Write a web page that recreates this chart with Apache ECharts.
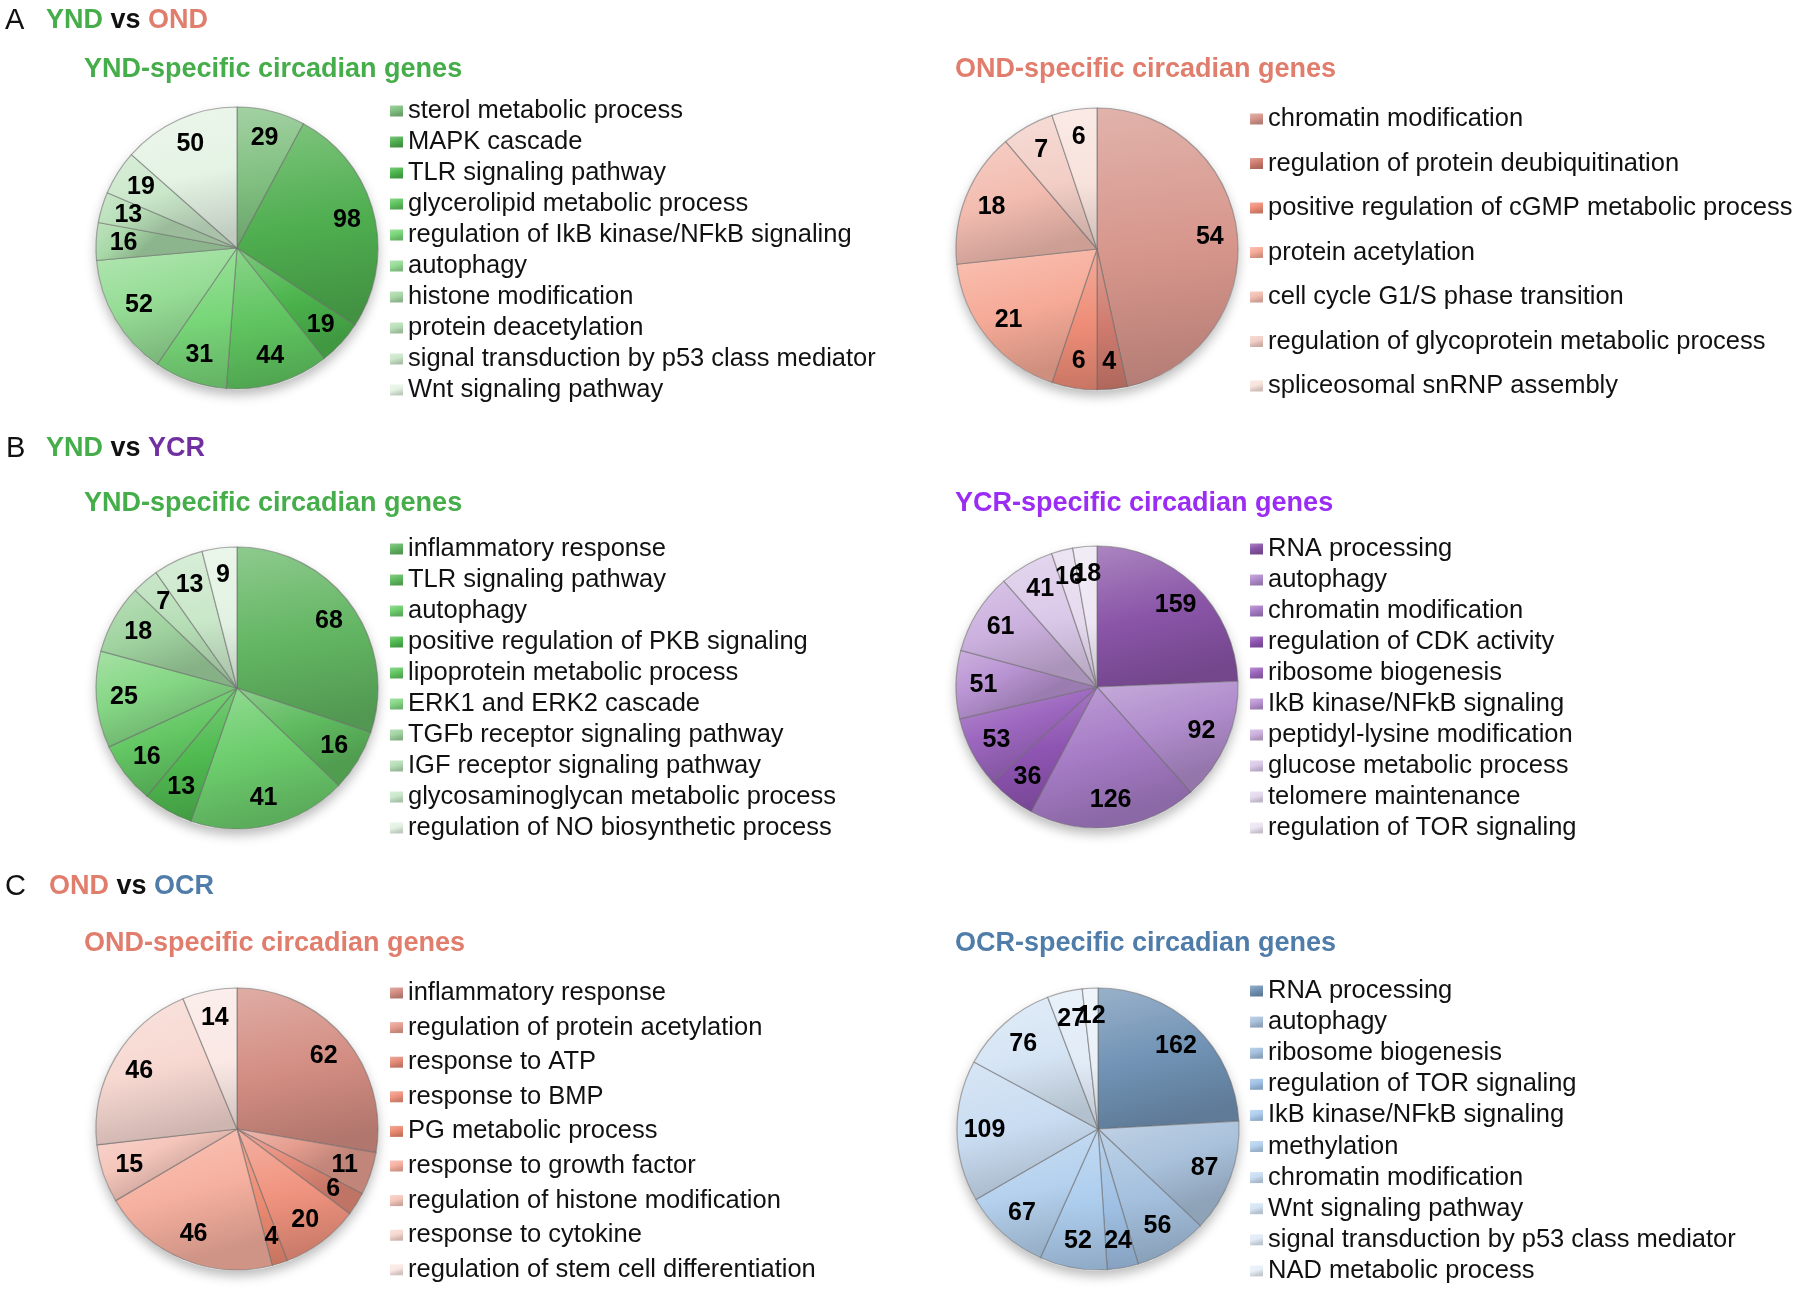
<!DOCTYPE html>
<html><head><meta charset="utf-8">
<script src="https://cdn.jsdelivr.net/npm/echarts@6/dist/echarts.min.js"></script>
<style>html,body{margin:0;padding:0;background:#fff}#c{width:1800px;height:1290px}</style>
</head><body><div id="c"></div>
<script>
// ---------- DATA ----------
const yndACategories = ['sterol metabolic process','MAPK cascade','TLR signaling pathway','glycerolipid metabolic process','regulation of IkB kinase/NFkB signaling','autophagy','histone modification','protein deacetylation','signal transduction by p53 class mediator','Wnt signaling pathway'];
const yndAValues = [29,98,19,44,31,52,16,13,19,50];
const ondACategories = ['chromatin modification','regulation of protein deubiquitination','positive regulation of cGMP metabolic process','protein acetylation','cell cycle G1/S phase transition','regulation of glycoprotein metabolic process','spliceosomal snRNP assembly'];
const ondAValues = [54,4,6,21,18,7,6];
const yndBCategories = ['inflammatory response','TLR signaling pathway','autophagy','positive regulation of PKB signaling','lipoprotein metabolic process','ERK1 and ERK2 cascade','TGFb receptor signaling pathway','IGF receptor signaling pathway','glycosaminoglycan metabolic process','regulation of NO biosynthetic process'];
const yndBValues = [68,16,41,13,16,25,18,7,13,9];
const ycrBCategories = ['RNA processing','autophagy','chromatin modification','regulation of CDK activity','ribosome biogenesis','IkB kinase/NFkB signaling','peptidyl-lysine modification','glucose metabolic process','telomere maintenance','regulation of TOR signaling'];
const ycrBValues = [159,92,126,36,53,51,61,41,16,18];
const ondCCategories = ['inflammatory response','regulation of protein acetylation','response to ATP','response to BMP','PG metabolic process','response to growth factor','regulation of histone modification','response to cytokine','regulation of stem cell differentiation'];
const ondCValues = [62,11,6,20,4,46,15,46,14];
const ocrCCategories = ['RNA processing','autophagy','ribosome biogenesis','regulation of TOR signaling','IkB kinase/NFkB signaling','methylation','chromatin modification','Wnt signaling pathway','signal transduction by p53 class mediator','NAD metabolic process'];
const ocrCValues = [162,87,56,24,52,67,109,76,27,12];

// ---------- STYLES ----------
const greenA = ['#7fbf7f','#4fae4f','#4cb54c','#5fc45f','#78d678','#95dc95','#a8d8a8','#b8dfb8','#cae7ca','#e4f3e4'];
const salmonA = ['#d6958b','#cf7b6e','#ee8d77','#f6aa97','#f3bcb0','#f2cec6','#f8e2dc'];
const greenB = ['#62b562','#5fbb5f','#6ccd6c','#50bb50','#63c763','#84d684','#a0d3a0','#b5ddb5','#c9e7c9','#e2f2e2'];
const purpleB = ['#8a55a8','#b08ccc','#a67cc6','#8f55b3','#9c66bf','#b994d3','#cbb0de','#dac8e8','#e5d9ee','#ede5f3'];
const salmonC = ['#d38d82','#e69e90','#e58a78','#f0937e','#ec8a72','#f6b09f','#f5c6bb','#f7d8d1','#fae8e4'];
const blueC = ['#7193b5','#a9c1db','#a4c0de','#9fc0e4','#adcdee','#b5d1ee','#c9dcf1','#d5e4f4','#e1ebf6','#e9f0f8'];

function hexToRgb(h){h=h.replace('#','');return [parseInt(h.substr(0,2),16),parseInt(h.substr(2,2),16),parseInt(h.substr(4,2),16)];}
function mix(c,t,f){const a=hexToRgb(c);return 'rgb('+a.map(v=>Math.round(v+(t-v)*f)).join(',')+')';}
function grad(c){
  return {type:'linear',x:0,y:0,x2:0.25,y2:1,colorStops:[
    {offset:0,color:mix(c,255,0.28)},{offset:0.55,color:c},{offset:1,color:mix(c,0,0.16)}]};
}

const FONT = '"Liberation Sans", Arial, Helvetica, sans-serif';
const R = 141;

const pies = [
  {cats:yndACategories, vals:yndAValues, colors:greenA, cx:237, cy:248, lx:390, first:111, step:31},
  {cats:ondACategories, vals:ondAValues, colors:salmonA, cx:1097, cy:249, lx:1250, first:119, step:44.5},
  {cats:yndBCategories, vals:yndBValues, colors:greenB, cx:237, cy:688, lx:390, first:549, step:31},
  {cats:ycrBCategories, vals:ycrBValues, colors:purpleB, cx:1097, cy:687, lx:1250, first:549, step:31},
  {cats:ondCCategories, vals:ondCValues, colors:salmonC, cx:237, cy:1129, lx:390, first:993, step:34.6},
  {cats:ocrCCategories, vals:ocrCValues, colors:blueC, cx:1098, cy:1129, lx:1250, first:991, step:31.1}
];

const series = [], legends = [], graphics = [];
const LH = 26;
pies.forEach((p, k) => {
  graphics.push({type:'circle', z:-10, silent:true, shape:{cx:p.cx, cy:p.cy+1, r:R},
    style:{fill:'#fff', shadowBlur:12, shadowOffsetY:5, shadowColor:'rgba(0,0,0,0.28)'}});
  series.push({
    type:'pie', center:[p.cx,p.cy], radius:[0,R], startAngle:90, clockwise:true,
    silent:true, animation:false, avoidLabelOverlap:false,
    label:{show:false}, labelLine:{show:false}, emphasis:{disabled:true},
    itemStyle:{borderColor:'rgba(105,105,105,0.55)', borderWidth:1.2},
    data:p.cats.map((n,i)=>({name:n, value:p.vals[i], itemStyle:{color:grad(p.colors[i])}}))
  });
  series.push({
    type:'pie', center:[p.cx,p.cy], radius:[80,R], startAngle:90, clockwise:true,
    silent:true, animation:false, avoidLabelOverlap:false, z:3,
    labelLine:{show:false}, emphasis:{disabled:true},
    labelLayout:{hideOverlap:false},
    itemStyle:{color:'rgba(0,0,0,0)', borderWidth:0},
    label:{show:true, position:'inside', formatter:'{c}', fontFamily:FONT, fontSize:25, fontWeight:'bold', color:'#000'},
    data:p.cats.map((n,i)=>({name:n, value:p.vals[i]}))
  });
  legends.push({
    orient:'vertical', left:p.lx, top:p.first - LH/2, padding:0, itemGap:p.step - LH,
    itemWidth:13, itemHeight:11, icon:'rect', selectedMode:false,
    textStyle:{fontFamily:FONT, fontSize:25.5, color:'#111', lineHeight:LH},
    data:p.cats.map((n,i)=>({name:n, itemStyle:{color:grad(p.colors[i]), borderWidth:0}}))
  });
});

const GREEN = '#45ad49', SALMON = '#e07d6c', PURPLE_D = '#7030a0', PURPLE = '#9b2cf4', BLUE = '#4f7ca8';
function txt(x,y,text,size,weight,fill){
  return {type:'text', x:x, y:y, silent:true, style:{text:text, fontFamily:FONT, fontSize:size, fontWeight:weight, fill:fill, verticalAlign:'middle'}};
}
function rich(x,y,a,ca,b,cb){
  return {type:'text', x:x, y:y, silent:true, style:{
    text:'{a|'+a+'} {v|vs} {b|'+b+'}', verticalAlign:'middle', fontFamily:FONT, fontSize:27, fontWeight:'bold',
    rich:{a:{fill:ca, fontFamily:FONT, fontSize:27, fontWeight:'bold'}, v:{fill:'#111', fontFamily:FONT, fontSize:27, fontWeight:'bold'}, b:{fill:cb, fontFamily:FONT, fontSize:27, fontWeight:'bold'}}}};
}
graphics.push(txt(5,21,'A',29,'normal','#111'));
graphics.push(rich(46,21,'YND',GREEN,'OND',SALMON));
graphics.push(txt(84,70,'YND-specific circadian genes',27,'bold',GREEN));
graphics.push(txt(955,70,'OND-specific circadian genes',27,'bold',SALMON));

graphics.push(txt(6,449,'B',29,'normal','#111'));
graphics.push(rich(46,449,'YND',GREEN,'YCR',PURPLE_D));
graphics.push(txt(84,504,'YND-specific circadian genes',27,'bold',GREEN));
graphics.push(txt(955,504,'YCR-specific circadian genes',27,'bold',PURPLE));

graphics.push(txt(5,887,'C',29,'normal','#111'));
graphics.push(rich(49,887,'OND',SALMON,'OCR',BLUE));
graphics.push(txt(84,944,'OND-specific circadian genes',27,'bold',SALMON));
graphics.push(txt(955,944,'OCR-specific circadian genes',27,'bold',BLUE));

const chart = echarts.init(document.getElementById('c'), null, {renderer:'canvas'});
chart.setOption({
  backgroundColor:'#fff', animation:false,
  legend:legends, series:series, graphic:graphics
});
</script></body></html>
